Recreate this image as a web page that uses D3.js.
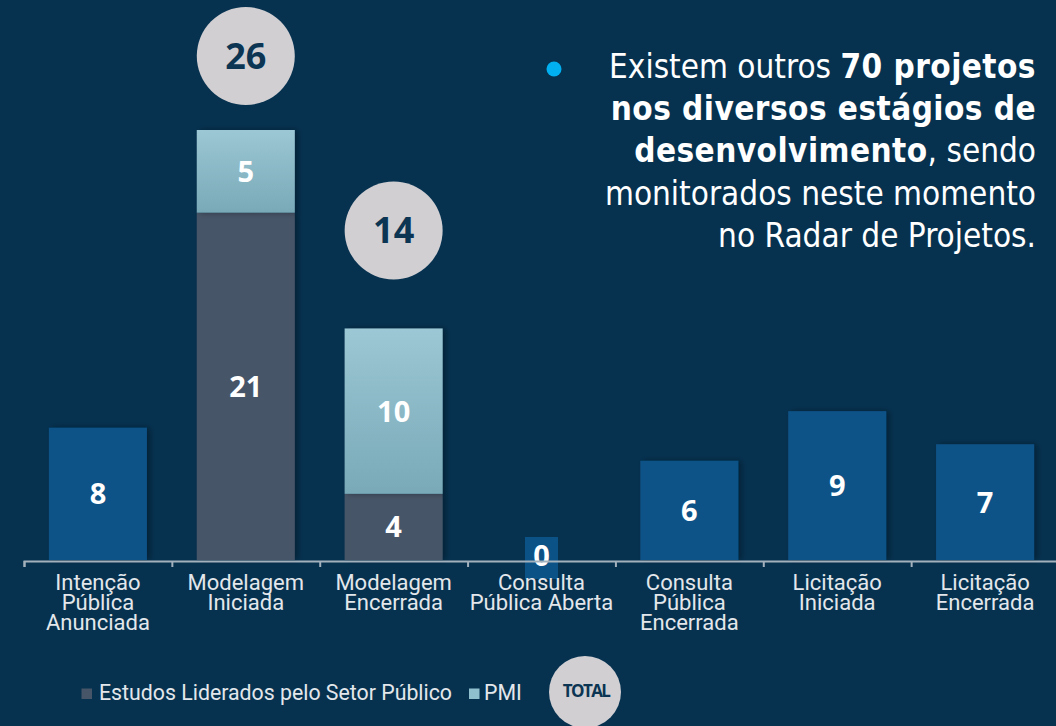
<!DOCTYPE html>
<html>
<head>
<meta charset="utf-8">
<script src="https://cdn.jsdelivr.net/npm/d3@7"></script>
<style>
  html, body { margin: 0; padding: 0; background: #063250; }
  svg { display: block; }
</style>
</head>
<body>
<div id="chart"></div>
<script>
/* Projetos por estágio - barras empilhadas */

const categories = ["Intenção Pública Anunciada", "Modelagem Iniciada", "Modelagem Encerrada",
                    "Consulta Pública Aberta", "Consulta Pública Encerrada",
                    "Licitação Iniciada", "Licitação Encerrada"];
const tickLines = [["Intenção", "Pública", "Anunciada"], ["Modelagem", "Iniciada"],
                   ["Modelagem", "Encerrada"], ["Consulta", "Pública Aberta"],
                   ["Consulta", "Pública", "Encerrada"], ["Licitação", "Iniciada"],
                   ["Licitação", "Encerrada"]];
// bars without breakdown
const semDetalhe = [8, null, null, 0, 6, 9, 7];
// stacked bars
const setorPublico = [null, 21, 4, null, null, null, null];
const pmi = [null, 5, 10, null, null, null, null];
const legendNames = ["Estudos Liderados pelo Setor Público", "PMI"];

const width = 1056,
      height = 726,
      baseline = 560;

const blue = "#0b5287", gray = "#475568";

let svg = d3.select("#chart")
    .append("svg")
    .attr("width", width)
    .attr("height", height);

svg.append("rect").attr("width", width).attr("height", height).attr("fill", "#063250");

let defs = svg.append("defs");
let grad = defs.append("linearGradient").attr("id", "pmiGrad")
    .attr("x1", 0).attr("x2", 0).attr("y1", 0).attr("y2", 1);
grad.append("stop").attr("offset", "0%").attr("stop-color", "#9cc7d4");
grad.append("stop").attr("offset", "100%").attr("stop-color", "#79a9b7");

let shadow = defs.append("filter").attr("id", "shadow")
    .attr("x", "-20%").attr("y", "-10%").attr("width", "150%").attr("height", "120%");
shadow.append("feDropShadow").attr("dx", 3).attr("dy", 0)
    .attr("stdDeviation", 3).attr("flood-color", "#000").attr("flood-opacity", 0.35);

// build segments
const data = categories.map((c, i) => {
    let segs = [];
    if (semDetalhe[i] !== null) {
        segs.push({ key: c, y0: 0, y1: semDetalhe[i], v: semDetalhe[i], fill: blue });
    } else {
        segs.push({ key: c, y0: 0, y1: setorPublico[i], v: setorPublico[i], fill: gray });
        segs.push({ key: c, y0: setorPublico[i], y1: setorPublico[i] + pmi[i], v: pmi[i], fill: "url(#pmiGrad)" });
    }
    return { key: c, i, segs, total: d3.sum(segs, s => s.v), split: semDetalhe[i] === null };
});

let x = d3.scaleBand()
    .domain(categories)
    .range([24, 1059])
    .paddingInner(0.337)
    .paddingOuter(0.337 / 2);

let y = d3.scaleLinear()
    .domain([0, d3.max(data, d => d.total)])
    .range([baseline, 130]);

// bars
let bar = svg.selectAll(".bar")
    .data(data)
    .join("g")
    .attr("class", "bar");

bar.selectAll("rect")
    .data(d => d.segs.filter(s => s.v > 0))
    .join("rect")
    .attr("x", s => x(s.key))
    .attr("width", x.bandwidth())
    .attr("y", s => y(s.y1))
    .attr("height", s => y(s.y0) - y(s.y1))
    .attr("fill", s => s.fill)
    .attr("filter", "url(#shadow)");

// axis: line with ticks at band boundaries
let xb = d3.scaleLinear().domain([0, categories.length]).range([24, 1059]);
let axis = svg.append("g")
    .attr("transform", `translate(0,${baseline + 1})`)
    .call(d3.axisBottom(xb).ticks(categories.length).tickSize(6).tickSizeOuter(6).tickFormat(""));
axis.selectAll("path, line").attr("stroke", "#a3b1bd").attr("stroke-width", 2);

// zero label box
bar.filter(d => d.total === 0)
    .append("rect")
    .attr("x", d => x(d.key) + x.bandwidth() / 2 - 16.5)
    .attr("width", 33)
    .attr("y", y(0) - 23)
    .attr("height", 42)
    .attr("fill", blue);

// tick labels
let labels = svg.append("g")
    .attr("font-family", "Roboto")
    .attr("font-size", 22)
    .attr("fill", "#e3e7eb")
    .attr("text-anchor", "middle");
labels.selectAll("text")
    .data(categories)
    .join("text")
    .attr("x", d => x(d) + x.bandwidth() / 2)
    .attr("y", 590)
    .selectAll("tspan")
    .data((d, i) => tickLines[i])
    .join("tspan")
    .attr("x", function () { return this.parentNode.getAttribute("x"); })
    .attr("dy", (t, j) => j === 0 ? 0 : 20)
    .text(t => t);

// value labels
bar.selectAll(".val")
    .data(d => d.segs)
    .join("text")
    .attr("class", "val")
    .attr("x", s => x(s.key) + x.bandwidth() / 2)
    .attr("y", s => s.v === 0 ? y(0) - 4 : (y(s.y0) + y(s.y1)) / 2)
    .attr("dy", "0.36em")
    .attr("text-anchor", "middle")
    .attr("font-family", "Open Sans")
    .attr("font-weight", 700)
    .attr("font-size", 29)
    .attr("fill", "#ffffff")
    .text(s => s.v);

// total circles
let tot = svg.selectAll(".total")
    .data(data.filter(d => d.split))
    .join("g")
    .attr("class", "total")
    .attr("transform", (d, k) => `translate(${x(d.key) + x.bandwidth() / 2},${y(d.total) - (k === 0 ? 74 : 98)})`);
tot.append("circle").attr("r", 49).attr("fill", "#d1cfd2");
tot.append("text")
    .attr("dy", "0.36em")
    .attr("text-anchor", "middle")
    .attr("font-family", "Open Sans")
    .attr("font-weight", 700)
    .attr("font-size", 36)
    .attr("fill", "#0b3552")
    .text(d => d.total);

// note text
const noteLines = [
    [["Existem outros ", 400], ["70 projetos", 700]],
    [["nos diversos estágios de", 700]],
    [["desenvolvimento", 700], [", sendo", 400]],
    [["monitorados neste momento", 400]],
    [["no Radar de Projetos.", 400]]
];
noteLines.forEach((line, li) => {
    let t = svg.append("text")
        .attr("x", 1036)
        .attr("y", 78 + li * 42.2)
        .attr("font-family", "DejaVu Sans Condensed")
        .attr("font-size", 33)
        .attr("fill", "#ffffff")
        .attr("text-anchor", "end");
    line.forEach(([s, w]) => t.append("tspan")
        .attr("font-weight", w)
        .attr("letter-spacing", w === 700 ? 0.45 : 0)
        .text(s));
});
svg.append("circle").attr("cx", 554).attr("cy", 69).attr("r", 7.5).attr("fill", "#00b0f0");

// legend
let legend = svg.append("g")
    .attr("font-family", "Roboto")
    .attr("font-size", 21.3)
    .attr("fill", "#e3e7eb");
legend.append("rect").attr("x", 81.5).attr("y", 688.5).attr("width", 10.5).attr("height", 10.5).attr("fill", gray);
legend.append("text").attr("x", 99).attr("y", 699.5).text(legendNames[0]);
legend.append("rect").attr("x", 469).attr("y", 688.5).attr("width", 10.5).attr("height", 10.5).attr("fill", "#8fc0ce");
legend.append("text").attr("x", 484).attr("y", 699.5).text(legendNames[1]);
legend.append("circle").attr("cx", 585).attr("cy", 692).attr("r", 36).attr("fill", "#d1cfd2");
legend.append("text")
    .attr("x", 586).attr("y", 691).attr("dy", "0.36em")
    .attr("text-anchor", "middle")
    .attr("font-family", "Open Sans")
    .attr("font-weight", 700)
    .attr("font-size", 17)
    .attr("letter-spacing", -1.6)
    .attr("fill", "#0b3552")
    .text("TOTAL");
</script>
</body>
</html>
